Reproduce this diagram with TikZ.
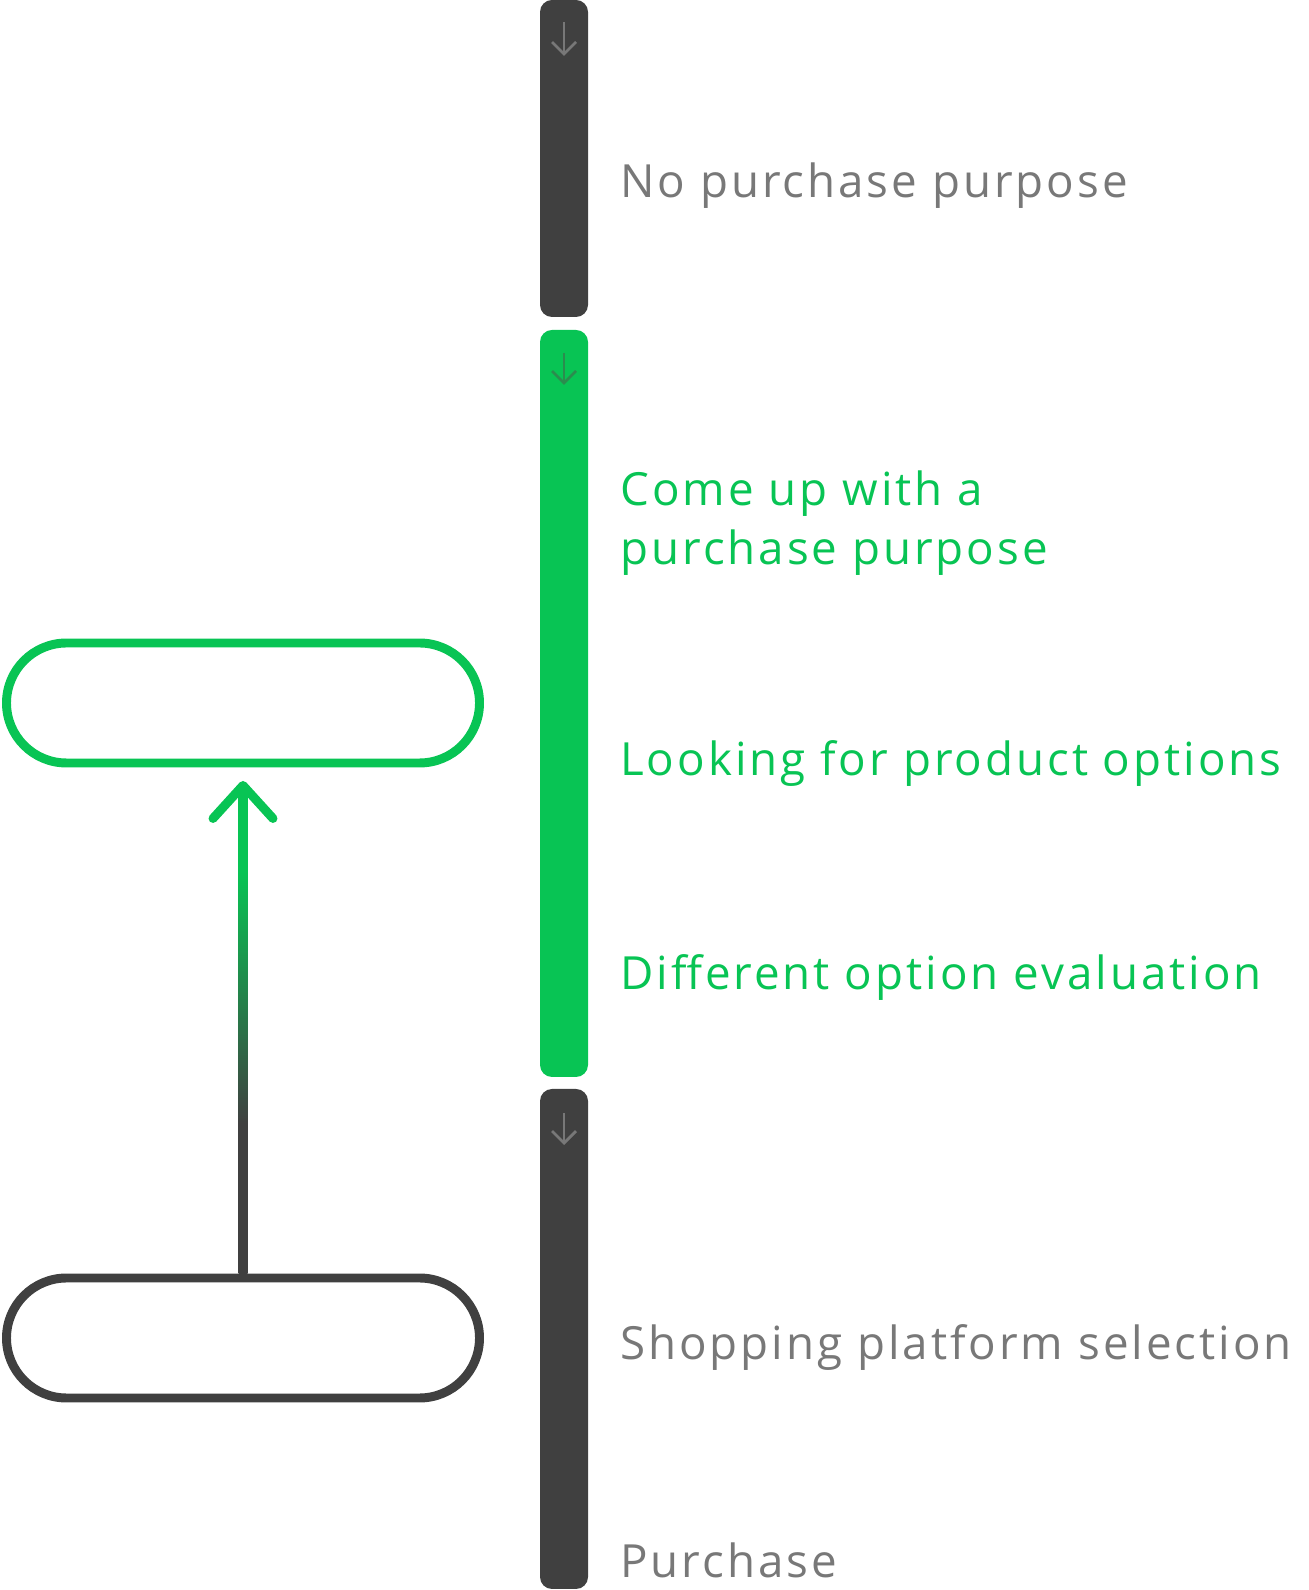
\documentclass[tikz,border=0pt]{standalone}
\usepackage{fontspec}
\setmainfont[LetterSpace=6.5]{Open Sans}
\usepackage{tikz}
\usetikzlibrary{positioning,arrows.meta,calc}
\usepackage{xcolor}

\definecolor{brandgreen}{HTML}{08C454}
\definecolor{bardark}{HTML}{404040}
\definecolor{labelgray}{HTML}{787878}
\definecolor{tickgreen}{HTML}{2B8C4E}

% shaft: dark at the bottom, green at the top
\pgfdeclareverticalshading{shaftfade}{100bp}{color(0bp)=(bardark); color(40.35bp)=(bardark); color(66.15bp)=(brandgreen); color(100bp)=(brandgreen)}

\tikzset{
    stagebar/.style={rounded corners=0.24cm},
    stagetick/.style={-{Straight Barb[length=0.24cm,width=0.48cm]}, line width=1.6pt},
    stagelabel/.style={anchor=base west, inner sep=0pt, align=left,
        font=\fontsize{26}{34}\selectfont},
    pill/.style={draw, line width=5.1pt, rounded corners=1.2cm,
        minimum width=9.46cm, minimum height=2.4cm, fill=white}
}

\begin{document}
\begin{tikzpicture}
    \useasboundingbox (0, 0) rectangle (26.18, 31.8);

    % =========================================================
    % STAGE BARS
    % =========================================================
    \fill[stagebar, bardark] (10.8, 31.8) rectangle (11.76, 25.46);
    \fill[stagebar, brandgreen] (10.8, 25.2) rectangle (11.76, 10.26);
    \fill[stagebar, bardark] (10.8, 10.02) rectangle (11.76, 0.02);

    % Small arrows at the top of each bar
    \draw[stagetick, labelgray] (11.28, 31.36) -- (11.28, 30.68);
    \draw[stagetick, tickgreen] (11.28, 24.74) -- (11.28, 24.10);
    \draw[stagetick, labelgray] (11.28, 9.54) -- (11.28, 8.90);

    % =========================================================
    % STAGE LABELS
    % =========================================================
    \node[stagelabel, text=labelgray] (nopurpose) at (12.4, 27.84) {No purchase purpose};
    \node[stagelabel, text=brandgreen] (comeup) at (12.4, 20.5) {Come up with a\\purchase purpose};
    \node[stagelabel, text=brandgreen] (looking) at (12.4, 16.28) {Looking for product options};
    \node[stagelabel, text=brandgreen] (evaluation) at (12.4, 12.0) {Different option evaluation};
    \node[stagelabel, text=labelgray] (platform) at (12.4, 4.6) {Shopping platform selection};
    \node[stagelabel, text=labelgray] (purchase) at (12.4, 0.26) {Purchase};

    % =========================================================
    % PILLS AND ARROW
    % =========================================================
    \node[pill, draw=brandgreen] (greenpill) at (4.86, 17.74) {};
    \node[pill, draw=bardark] (darkpill) at (4.86, 5.04) {};

    \coordinate (tip) at ([yshift=-0.36cm]greenpill.south);

    % Shaft, fading from dark grey into green
    \shade[shading=shaftfade] ([xshift=-0.09cm]darkpill.north) rectangle ([xshift=0.09cm]tip);
    % Arrow head
    \draw[brandgreen, line width=5.1pt, line cap=round, line join=round]
        ([shift={(-0.6, -0.66)}]tip) -- (tip) -- ([shift={(0.6, -0.66)}]tip);
\end{tikzpicture}
\end{document}
